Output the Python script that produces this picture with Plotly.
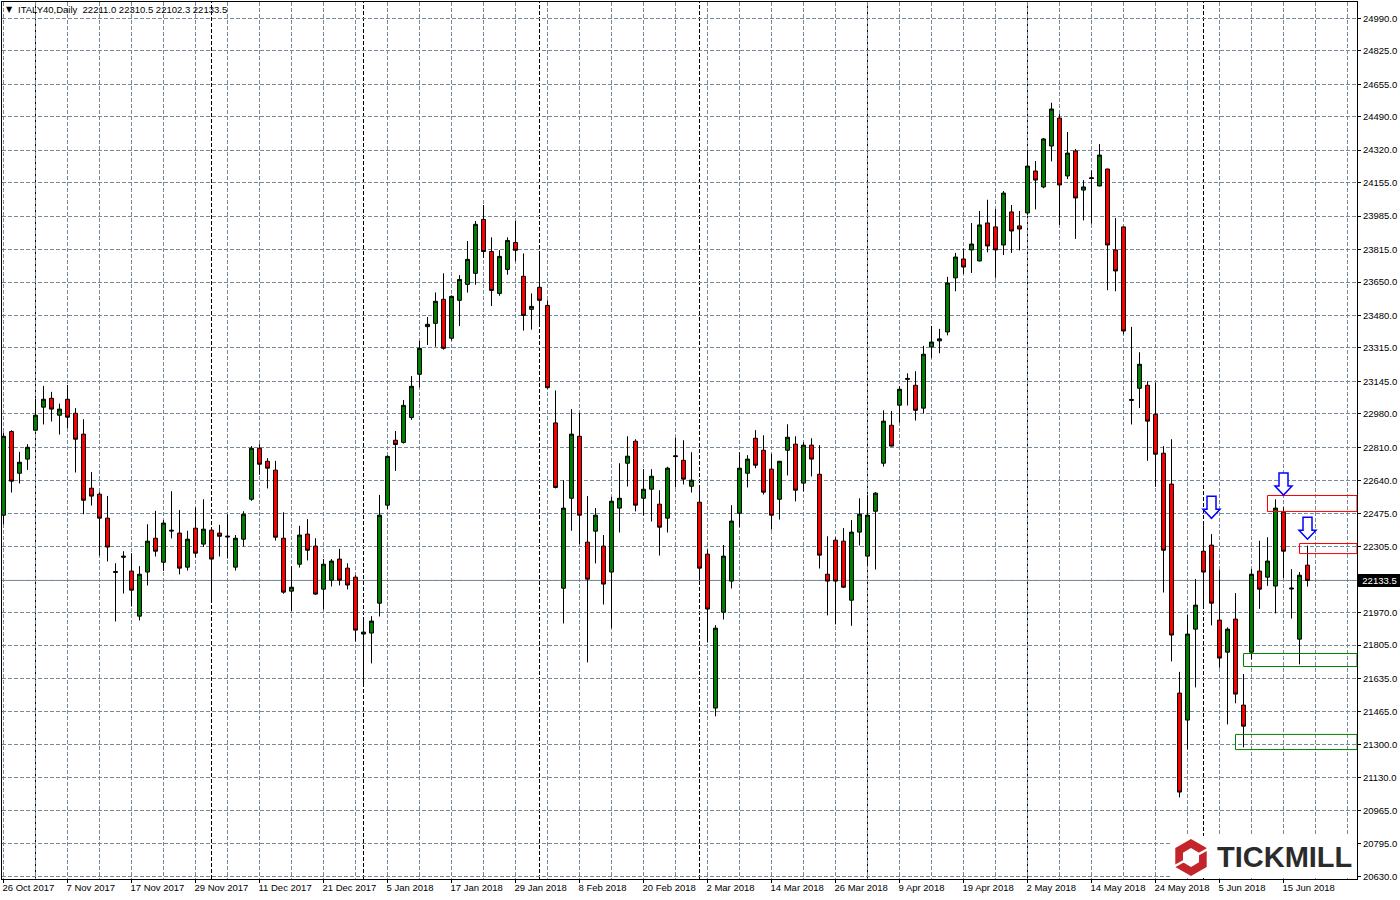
import plotly.graph_objects as go

# Daily OHLC values (bar 0 .. bar 163)
opens = [22465,22890,22678,22750,22897,23014,23059,22973,23054,22983,22877,22602,22572,22450,22179,22257,22181,21952,22176,22348,
         22226,22389,22374,22201,22399,22318,22389,22374,22359,22201,22343,22546,22805,22739,22694,22348,22079,22216,22369,22308,
         22089,22135,22242,22196,22150,21861,21866,22018,22516,22846,22835,22961,23181,23423,23440,23562,23364,23557,23638,23694,
         23968,23805,23592,23714,23851,23679,23511,23623,23531,22934,22094,22551,22866,22328,22384,22308,22176,22501,22729,22841,
         22551,22597,22521,22450,22767,22744,22612,22531,22267,21485,21972,22130,22475,22678,22856,22795,22699,22546,22795,22826,
         22628,22821,22673,22165,22338,22333,22033,22379,22257,22485,22729,22922,23024,23160,23125,23009,23320,23351,23396,23671,
         23767,23813,23757,23950,23930,23838,24006,23935,24001,24214,24133,24341,24483,24189,24316,24117,24180,24138,24224,23813,
         23930,23053,23110,23125,22978,22780,22623,21561,21424,21886,22282,22313,21932,21769,21937,21500,21769,22181,22150,22105,
         22480,22095,21835,22211.0]
highs = [22885,22897,22787,22826,23056,23122,23092,23032,23127,23009,22953,22684,22582,22563,22221,22282,22272,22206,22419,22487,
         22440,22587,22491,22386,22504,22546,22392,22416,22470,22364,22485,22816,22826,22755,22741,22480,22206,22411,22445,22348,
         22242,22242,22294,22221,22160,21932,21952,22568,22768,22893,23050,23172,23350,23472,23597,23694,23582,23685,23858,23960,
         24041,23877,23812,23877,23960,23795,23592,23800,23557,23099,22643,23004,22985,22562,22501,22364,22558,22729,22866,22851,
         22699,22699,22592,22711,22858,22846,22785,22597,22291,21906,22313,22516,22785,22770,22897,22871,22777,22741,22927,22866,
         22836,22856,22821,22358,22352,22399,22440,22551,22567,22582,22998,22995,23120,23186,23197,23325,23427,23412,23676,23798,
         23820,23950,24011,24068,24021,24112,24041,24011,24310,24265,24382,24561,24503,24412,24326,24168,24217,24351,24226,23975,
         23932,23422,23293,23146,23139,22816,22851,21669,21959,22140,22414,22369,22186,21895,22069,21658,22191,22335,22353,22546,
         22505,22191,22176,22310.5]
lows = [22419,22580,22626,22695,22895,22926,22941,22875,22907,22682,22470,22514,22259,22230,21925,22067,22001,21930,22108,22255,
        22182,22347,22164,22184,22250,22304,22037,22255,22245,22184,22306,22538,22670,22601,22336,22066,21978,22199,22235,22060,
        21986,22103,22108,22088,21823,21605,21712,21950,22496,22690,22829,22949,23115,23330,23321,23306,23352,23426,23596,23636,
        23773,23528,23580,23687,23755,23403,23408,23435,23108,22601,21915,22386,22318,21717,22220,22011,21891,22377,22611,22484,
        22463,22433,22260,22377,22606,22621,22580,22135,21818,21443,21935,22093,22404,22606,22704,22570,22392,22443,22667,22535,
        22585,22662,22194,21956,21910,22095,21903,22311,22206,22189,22712,22814,22936,23022,22946,22982,23264,23288,23379,23603,
        23691,23696,23755,23801,23671,23787,23798,23811,23990,24019,24126,24263,23940,24173,23869,23963,23946,24136,23608,23603,
        23384,22926,23010,22741,22609,22072,21722,21031,21275,21590,22008,21905,21690,21402,21509,21285,21732,21989,22106,21966,
        22145,21940,21707,22102.3]
closes = [22866,22638,22734,22810,22973,23054,23004,23004,22963,22851,22541,22562,22450,22303,22175,22252,22084,22165,22333,22282,
          22425,22385,22196,22343,22272,22394,22242,22358,22355,22348,22470,22805,22724,22704,22353,22074,22099,22364,22287,22064,
          22216,22232,22135,22110,21881,21871,21927,22465,22764,22824,23023,23120,23313,23435,23552,23313,23577,23663,23765,23943,
          23805,23607,23780,23861,23811,23480,23526,23557,23113,22606,22501,22877,22465,22140,22465,22115,22536,22551,22765,22516,
          22597,22663,22404,22704,22763,22648,22643,22196,21988,21891,22257,22435,22704,22750,22719,22582,22465,22739,22861,22592,
          22821,22750,22262,22130,22130,22099,22379,22470,22465,22577,22943,22816,23105,23156,22998,23283,23345,23361,23645,23777,
          23726,23843,23940,23833,23813,24102,23909,23919,24239,24168,24377,24529,24143,24305,24077,24133,24176,24295,23838,23706,
          23401,23049,23232,22943,22775,22287,21856,21058,21861,22008,22176,22018,21739,21886,21556,21393,22165,22089,22232,22501,
          22282,22091,22160,22133.5]

price_ticks = [24990,24825,24655,24490,24320,24155,23985,23815,23650,23480,23315,23145,22980,22810,22640,22475,22305,22135,
               21970,21805,21635,21465,21300,21130,20965,20795,20630]
date_labels = ["26 Oct 2017","7 Nov 2017","17 Nov 2017","29 Nov 2017","11 Dec 2017","21 Dec 2017","5 Jan 2018","17 Jan 2018",
               "29 Jan 2018","8 Feb 2018","20 Feb 2018","2 Mar 2018","14 Mar 2018","26 Mar 2018","9 Apr 2018","19 Apr 2018",
               "2 May 2018","14 May 2018","24 May 2018","5 Jun 2018","15 Jun 2018"]
month_starts = [4, 26, 45, 67, 87, 108, 128, 150]
last_price = 22133.5
header = "ITALY40,Daily  22211.0 22310.5 22102.3 22133.5"

arrow_bars = [151, 160, 163]
arrow_levels = [22505, 22623, 22399]
red_box_bars = [158, 162]
red_box_tops = [22565, 22321]
red_box_bottoms = [22484, 22270]
green_box_bars = [155, 154]
green_box_tops = [21762, 21351]
green_box_bottoms = [21696, 21274]

# ---------- layout geometry (page pixels) ----------
W, H = 1400, 900
L, R, T, B = 2, 1357, 2, 879
FONT = "Liberation Sans"
FS = 9.5
SLATE = "#778899"
DASH = "4px,2px"
bars = list(range(len(opens)))
X_RANGE = [(L - 3.5) / 8, (R - 3.5) / 8]
Y_RANGE = [20630 - (B - 876.3) * 5.0816, 24990 + (18.3 - T) * 5.0816]


def px(x):
    return (x - L) / (R - L)


def py(y):
    return (B - y) / (B - T)


fig = go.Figure()
fig.add_trace(go.Candlestick(
    x=bars, open=opens, high=highs, low=lows, close=closes,
    increasing=dict(fillcolor="#008000", line=dict(color="black", width=1)),
    decreasing=dict(fillcolor="#ff0000", line=dict(color="black", width=1)),
    whiskerwidth=0, showlegend=False, hoverinfo="skip",
))

shapes = []
for b in month_starts:
    shapes.append(dict(type="line", xref="x", yref="paper", x0=b, x1=b, y0=0, y1=1, layer="below",
                       line=dict(color="black", width=1, dash=DASH)))
shapes.append(dict(type="line", xref="paper", yref="y", x0=0, x1=1, y0=last_price, y1=last_price, layer="below",
                   line=dict(color=SLATE, width=1)))
for b, t, u in zip(red_box_bars, red_box_tops, red_box_bottoms):
    shapes.append(dict(type="rect", xref="x", yref="y", x0=b, x1=X_RANGE[1], y0=u, y1=t, layer="above",
                       line=dict(color="#ff0000", width=1)))
for b, t, u in zip(green_box_bars, green_box_tops, green_box_bottoms):
    shapes.append(dict(type="rect", xref="x", yref="y", x0=b, x1=X_RANGE[1], y0=u, y1=t, layer="above",
                       line=dict(color="#008000", width=1)))

# hollow down arrows, drawn in pixel offsets around their anchor bar and level
ARROW = "M-4.5,11 L4.5,11 L4.5,-2 L8.5,-2 L0,-11 L-8.5,-2 L-4.5,-2 Z"
for b, v in zip(arrow_bars, arrow_levels):
    shapes.append(dict(type="path", xref="x", yref="y", xsizemode="pixel", ysizemode="pixel",
                       xanchor=b, yanchor=v, path=ARROW, layer="above",
                       fillcolor="white", line=dict(color="#0000ff", width=1.5)))

# logo: white patch and hexagon mark
shapes.append(dict(type="rect", xref="paper", yref="paper", x0=px(1172), x1=px(1356), y0=py(878), y1=py(836),
                   layer="above", fillcolor="white", line=dict(width=0)))


def poly(points):
    return "M" + " L".join(f"{px(a):.5f},{py(c):.5f}" for a, c in points) + " Z"


outer = [(1191, 839), (1206.7, 848), (1206.7, 867), (1191, 876), (1175.3, 867), (1175.3, 848)]
inner = [(1191, 848), (1199, 852.7), (1199, 862.3), (1191, 867), (1183, 862.3), (1183, 852.7)]
shapes.append(dict(type="path", xref="paper", yref="paper", path=poly(outer) + " " + poly(inner),
                   fillcolor="#c4242b", line=dict(width=0), layer="above"))
for a0, c0, a1, c1 in [(1198, 854.5, 1208, 849), (1174, 866.5, 1184, 861)]:
    shapes.append(dict(type="line", xref="paper", yref="paper", x0=px(a0), x1=px(a1), y0=py(c0), y1=py(c1),
                       line=dict(color="white", width=2.5), layer="above"))

annotations = [
    dict(xref="paper", yref="paper", x=px(4), y=py(10), xanchor="left", yanchor="middle", showarrow=False,
         text="\u25bc", font=dict(family="DejaVu Sans", size=8, color="black")),
    dict(xref="paper", yref="paper", x=px(16), y=py(10), xanchor="left", yanchor="middle", showarrow=False,
         text=header.replace("  ", "\u00a0\u00a0"), font=dict(family=FONT, size=FS, color="black")),
    dict(xref="paper", yref="y", x=1, y=last_price, xanchor="left", yanchor="middle", xshift=1, showarrow=False,
         text=f"{last_price:.1f}", font=dict(family=FONT, size=FS, color="white"),
         bgcolor="black", borderpad=1, borderwidth=0, width=41, align="center"),
    dict(xref="paper", yref="paper", x=px(1215), y=py(857), xanchor="left", yanchor="middle", showarrow=False,
         text="<b>TICKMILL</b>", font=dict(family=FONT, size=29, color="#2b2b2b")),
]

fig.update_layout(
    width=W, height=H, autosize=False,
    margin=dict(l=L, r=W - R, t=T, b=H - B, pad=0),
    paper_bgcolor="white", plot_bgcolor="white",
    shapes=shapes, annotations=annotations, showlegend=False,
    font=dict(family=FONT, size=FS, color="black"),
    xaxis=dict(
        range=X_RANGE, rangeslider=dict(visible=False), type="linear",
        tickmode="array", tickvals=[i * 8 for i in range(len(date_labels))], ticktext=date_labels,
        ticklabelposition="outside right", ticklabelshift=-2, tickangle=0, automargin=False,
        ticks="outside", ticklen=3, tickcolor="black", tickwidth=1,
        showgrid=True, gridcolor=SLATE, griddash=DASH, gridwidth=1,
        minor=dict(tickmode="array", tickvals=list(range(0, 169, 4)), showgrid=True, gridcolor=SLATE,
                   griddash=DASH, gridwidth=1, ticks=""),
        showline=True, linecolor="black", linewidth=1, mirror=True, zeroline=False, fixedrange=True,
        tickfont=dict(family=FONT, size=FS, color="black"),
    ),
    yaxis=dict(
        range=Y_RANGE, side="right", tickmode="array", tickvals=price_ticks, automargin=False,
        ticktext=[f"{v:.1f}" for v in price_ticks],
        ticks="outside", ticklen=3, tickcolor="black", tickwidth=1,
        showgrid=True, gridcolor=SLATE, griddash=DASH, gridwidth=1,
        showline=True, linecolor="black", linewidth=1, mirror=True, zeroline=False, fixedrange=True,
        tickfont=dict(family=FONT, size=FS, color="black"),
    ),
)

fig.write_html("out.html", config=dict(displayModeBar=False),
               post_script="document.body.style.margin='0';document.body.style.background='white';")
